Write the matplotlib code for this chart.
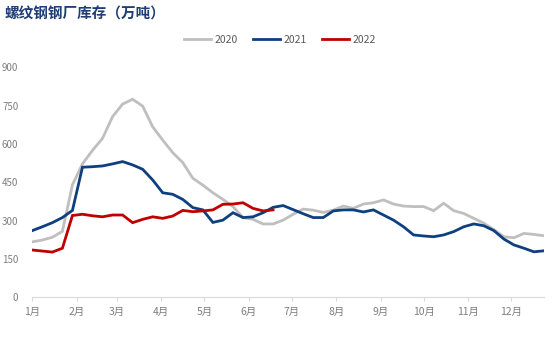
import numpy as np
import matplotlib.pyplot as plt

plt.rcParams['font.family'] = ['Noto Sans CJK SC', 'DejaVu Sans']

#   Weekly rebar mill inventory (10k t), one value per week from early Jan
inv_2020 = [217, 224, 235, 258, 440, 522, 575, 622, 707, 756, 775, 748, 667,
            615, 566, 527, 466, 439, 409, 383, 355, 312, 305, 287, 287, 302,
            325, 345, 341, 332, 341, 357, 348, 365, 370, 381, 365, 357, 355,
            355, 339, 368, 339, 328, 309, 290, 265, 237, 233, 250, 246, 241]
inv_2021 = [261, 276, 292, 312, 340, 509, 511, 514, 522, 531, 518, 501, 459,
            409, 403, 383, 351, 342, 293, 302, 331, 312, 315, 331, 352, 359,
            343, 327, 312, 312, 338, 342, 342, 334, 342, 322, 302, 276, 244,
            240, 237, 244, 257, 276, 287, 280, 261, 228, 205, 192, 178, 182]
inv_2022 = [185, 181, 177, 192, 320, 325, 319, 315, 322, 322, 292, 305, 315,
            309, 318, 340, 335, 338, 342, 364, 365, 370, 348, 338, 342]

month_labels = ['1月', '2月', '3月', '4月', '5月', '6月',
                '7月', '8月', '9月', '10月', '11月', '12月']
month_start_day = [0, 31, 59, 90, 120, 151, 181, 212, 243, 273, 304, 334]

series = [('2020', inv_2020, '#BFBFBF'),
          ('2021', inv_2021, '#0E3F7E'),
          ('2022', inv_2022, '#C00000')]

fig = plt.figure(figsize=(5.54, 3.40), dpi=100)
ax = fig.add_axes([32.3 / 554, 42.7 / 340, 511.7 / 554, 230 / 340])

for name, vals, col in series:
    days = np.arange(len(vals)) * 7
    ax.plot(days, vals, color=col, lw=2.0, label=name, solid_joinstyle='miter')

ax.set_xlim(0, 357)
ax.set_ylim(0, 900)
ax.set_yticks(np.arange(0, 901, 150))
ax.set_xticks(month_start_day)
ax.set_xticklabels(month_labels)

tick_col = '#7F7F7F'
ax.tick_params(axis='y', length=0, pad=10, labelsize=7, labelcolor=tick_col)
ax.tick_params(axis='x', length=3, width=0.8, color='#D9D9D9', pad=4,
               labelsize=7.5, labelcolor=tick_col)
for s in ['top', 'right', 'left']:
    ax.spines[s].set_visible(False)
ax.spines['bottom'].set_color('#D9D9D9')
ax.spines['bottom'].set_linewidth(0.8)

fig.text(5 / 554, 1 - 14 / 340, '螺纹钢钢厂库存（万吨）', fontsize=10.5,
         fontweight='bold', color='#1F3E76', va='center', ha='left')

leg = fig.legend(loc='center', bbox_to_anchor=(280 / 554, 1 - 40 / 340), ncol=3,
                 frameon=False, fontsize=7.5, handlelength=2.6,
                 handletextpad=0.3, columnspacing=1.5)
for t in leg.get_texts():
    t.set_color('#595959')

fig.savefig('out.png', dpi=100)
